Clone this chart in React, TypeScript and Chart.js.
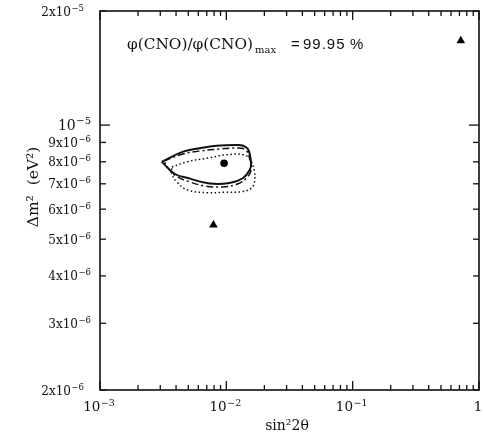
import React, { useEffect, useRef } from "react";
import { Chart, registerables } from "chart.js";

Chart.register(...registerables);

// ---- data (sin^2 2θ , Δm^2 in eV^2) ----
const solidX = [0.00308, 0.00455, 0.00617, 0.00834, 0.012, 0.01361, 0.0149, 0.0157, 0.0153, 0.0135, 0.0106, 0.00739, 0.00496, 0.00392, 0.00308];
const solidY = [8.0e-6, 8.51e-6, 8.69e-6, 8.82e-6, 8.86e-6, 8.82e-6, 8.62e-6, 7.93e-6, 7.61e-6, 7.24e-6, 7.03e-6, 7.01e-6, 7.25e-6, 7.43e-6, 8.0e-6];

const dashX = [0.00321, 0.00453, 0.00617, 0.00886, 0.01227, 0.01419, 0.01526, 0.01582, 0.01472, 0.01227, 0.00918, 0.00675, 0.00514, 0.00399, 0.00345, 0.00321];
const dashY = [8.04e-6, 8.39e-6, 8.54e-6, 8.65e-6, 8.7e-6, 8.6e-6, 8.19e-6, 7.71e-6, 7.3e-6, 6.99e-6, 6.87e-6, 6.91e-6, 7.08e-6, 7.34e-6, 7.71e-6, 8.04e-6];

const dotX = [0.00371, 0.00496, 0.00739, 0.0097, 0.01393, 0.01574, 0.01671, 0.01671, 0.01574, 0.01312, 0.0097, 0.00712, 0.00496, 0.00404, 0.00369, 0.00371];
const dotY = [7.75e-6, 8.01e-6, 8.2e-6, 8.34e-6, 8.34e-6, 8.01e-6, 7.53e-6, 7.09e-6, 6.81e-6, 6.67e-6, 6.65e-6, 6.63e-6, 6.74e-6, 7.09e-6, 7.46e-6, 7.75e-6];

const bestFitX = [0.0096];
const bestFitY = [7.93e-6];

const triangleX = [0.0079, 0.718];
const triangleY = [5.45e-6, 1.67e-5];

const xMin = 1e-3;
const xMax = 1;
const yMin = 2e-6;
const yMax = 2e-5;

const xMajorTicks = [1e-3, 1e-2, 1e-1, 1];
const xTickLabels = ["10^\u22123", "10^\u22122", "10^\u22121", "1"];
const xMinorMultipliers = [2, 3, 4, 5, 6, 7, 8, 9];

const yTicks = [2e-5, 1e-5, 9e-6, 8e-6, 7e-6, 6e-6, 5e-6, 4e-6, 3e-6, 2e-6];
const yTickLabels = ["2x10^\u22125", "10^\u22125", "9x10^\u22126", "8x10^\u22126", "7x10^\u22126", "6x10^\u22126", "5x10^\u22126", "4x10^\u22126", "3x10^\u22126", "2x10^\u22126"];

const xTitle = "sin\u00B22\u03B8";
const yTitle = "\u0394m\u00B2  (eV\u00B2)";
const annotFlux = "\u03C6(CNO)/\u03C6(CNO)";
const annotSub = "max";
const annotEq = "=";
const annotValue = "99.95";
const annotUnit = "%";

const SERIF = "'DejaVu Serif', serif";
const SANS = "'Liberation Sans', Arial, sans-serif";
const INK = "#111";

const zip = (xs: number[], ys: number[]) => xs.map((x, i) => ({ x, y: ys[i] }));

function drawPow(
  ctx: CanvasRenderingContext2D,
  label: string,
  x: number,
  y: number,
  align: "left" | "right" | "center",
  baseSize: number,
  expSize: number,
  rise: number
) {
  const [base, exp] = label.split("^");
  ctx.font = `${baseSize}px ${SERIF}`;
  const wb = ctx.measureText(base).width;
  ctx.font = `${expSize}px ${SERIF}`;
  const we = exp ? ctx.measureText(exp).width + 0.5 : 0;
  const total = wb + we;
  const x0 = align === "right" ? x - total : align === "center" ? x - total / 2 : x;
  ctx.textAlign = "left";
  ctx.textBaseline = "alphabetic";
  ctx.font = `${baseSize}px ${SERIF}`;
  ctx.fillText(base, x0, y);
  if (exp) {
    ctx.font = `${expSize}px ${SERIF}`;
    ctx.fillText(exp, x0 + wb + 0.5, y - rise);
  }
}

const isDecade = (v: number) => Math.abs(Math.log10(v) - Math.round(Math.log10(v))) < 1e-9;

const overlayPlugin = {
  id: "overlay",
  afterDraw(chart: any) {
    const { ctx, chartArea: a, scales } = chart;
    const xs = scales.x;
    const ys = scales.y;
    ctx.save();
    ctx.fillStyle = INK;
    ctx.strokeStyle = INK;

    const seg = (x1: number, y1: number, x2: number, y2: number) => {
      ctx.beginPath();
      ctx.moveTo(x1, y1);
      ctx.lineTo(x2, y2);
      ctx.stroke();
    };

    // ticks
    ctx.lineWidth = 1.3;
    xMajorTicks.forEach((v, i) => {
      const px = xs.getPixelForValue(v);
      seg(px, a.bottom, px, a.bottom - 9);
      seg(px, a.top, px, a.top + 9);
      if (i < xMajorTicks.length - 1) {
        xMinorMultipliers.forEach((m) => {
          const mx = xs.getPixelForValue(v * m);
          seg(mx, a.bottom, mx, a.bottom - 5);
          seg(mx, a.top, mx, a.top + 5);
        });
      }
    });
    yTicks.forEach((v) => {
      const py = ys.getPixelForValue(v);
      const len = isDecade(v) ? 10 : 6;
      seg(a.left, py, a.left + len, py);
      seg(a.right, py, a.right - len, py);
    });

    // frame
    ctx.lineWidth = 1.6;
    ctx.strokeRect(a.left, a.top, a.right - a.left, a.bottom - a.top);

    // x tick labels
    xMajorTicks.forEach((v, i) => {
      const px = xs.getPixelForValue(v);
      drawPow(ctx, xTickLabels[i], px - 1, a.bottom + 21, "center", 13.5, 9.5, 5.5);
    });

    // y tick labels
    yTicks.forEach((v, i) => {
      const py = ys.getPixelForValue(v);
      const corner = v === yMin || v === yMax;
      const right = corner ? 84 : 91;
      if (isDecade(v)) {
        drawPow(ctx, yTickLabels[i], right, py + 5, "right", 14, 10, 6);
      } else {
        drawPow(ctx, yTickLabels[i], right, py + 4.5, "right", 12, 8.5, 5);
      }
    });

    // axis titles
    ctx.font = `14px ${SERIF}`;
    ctx.textAlign = "center";
    ctx.textBaseline = "alphabetic";
    ctx.fillText(xTitle, 287, 430);

    ctx.save();
    ctx.translate(38, 187);
    ctx.rotate(-Math.PI / 2);
    ctx.font = `15.5px ${SERIF}`;
    ctx.textAlign = "center";
    ctx.fillText(yTitle, 0, 0);
    ctx.restore();

    // annotation
    ctx.textAlign = "left";
    ctx.font = `16px ${SERIF}`;
    const w16 = ctx.measureText(annotFlux).width;
    const fs = (16 * 126) / w16;
    ctx.font = `${fs}px ${SERIF}`;
    ctx.fillText(annotFlux, 127, 49);
    ctx.font = `10px ${SERIF}`;
    ctx.fillText(annotSub, 255, 53);
    ctx.font = `15px ${SANS}`;
    ctx.fillText(annotEq, 291, 49);
    (ctx as any).letterSpacing = "1px";
    ctx.fillText(annotValue, 303, 49);
    (ctx as any).letterSpacing = "0px";
    ctx.fillText(annotUnit, 350, 49);

    ctx.restore();
  },
};

export default function App() {
  const canvasRef = useRef<HTMLCanvasElement | null>(null);

  useEffect(() => {
    const canvas = canvasRef.current;
    if (!canvas) return;
    const chart = new Chart(canvas, {
      type: "scatter",
      data: {
        datasets: [
          {
            label: "solid",
            data: zip(solidX, solidY),
            showLine: true,
            borderColor: INK,
            borderWidth: 2,
            pointRadius: 0,
            tension: 0.4,
            fill: false,
          },
          {
            label: "dashdot",
            data: zip(dashX, dashY),
            showLine: true,
            borderColor: INK,
            borderWidth: 1.5,
            borderDash: [7, 3, 2, 3],
            pointRadius: 0,
            tension: 0.4,
            fill: false,
          },
          {
            label: "dotted",
            data: zip(dotX, dotY),
            showLine: true,
            borderColor: INK,
            borderWidth: 1.5,
            borderDash: [1.5, 2.5],
            pointRadius: 0,
            tension: 0.4,
            fill: false,
          },
          {
            label: "best",
            data: zip(bestFitX, bestFitY),
            showLine: false,
            pointStyle: "circle",
            pointRadius: 3.8,
            backgroundColor: "#000",
            borderColor: "#000",
            borderWidth: 0,
          },
          {
            label: "triangles",
            data: zip(triangleX, triangleY),
            showLine: false,
            pointStyle: "triangle",
            pointRadius: 5,
            backgroundColor: "#000",
            borderColor: "#000",
            borderWidth: 0,
          },
        ],
      },
      options: {
        animation: false,
        responsive: false,
        devicePixelRatio: 1,
        events: [],
        layout: { padding: { top: 11, right: 3, left: 0, bottom: 0 } },
        plugins: {
          legend: { display: false },
          tooltip: { enabled: false },
          title: { display: false },
        },
        scales: {
          x: {
            type: "logarithmic",
            min: xMin,
            max: xMax,
            position: "bottom",
            grid: { display: false },
            border: { display: false },
            ticks: { display: false },
            afterFit: (s: any) => {
              s.height = 46;
            },
          },
          y: {
            type: "logarithmic",
            min: yMin,
            max: yMax,
            position: "left",
            grid: { display: false },
            border: { display: false },
            ticks: { display: false },
            afterFit: (s: any) => {
              s.width = 100;
            },
          },
        },
      },
      plugins: [overlayPlugin],
    } as any);
    return () => chart.destroy();
  }, []);

  return (
    <div style={{ position: "absolute", left: 0, top: 0, width: 484, height: 436, background: "#fff" }}>
      <canvas ref={canvasRef} width={484} height={436} style={{ display: "block" }} />
    </div>
  );
}
